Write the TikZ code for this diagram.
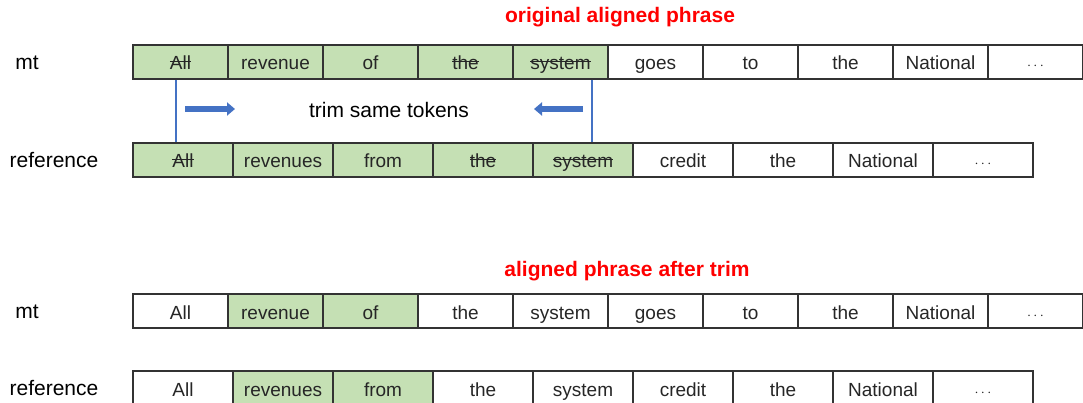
\documentclass[tikz,border=0pt]{standalone}
\usepackage{fontspec}
\setmainfont{Liberation Sans}
\usetikzlibrary{arrows.meta}
\definecolor{hitgreen}{RGB}{197,224,180}
\definecolor{linkblue}{RGB}{68,114,196}
\newsavebox{\cutbox}
\newcommand{\cutword}[1]{\sbox{\cutbox}{#1}\usebox{\cutbox}\llap{\rule[0.4em]{\wd\cutbox}{1.1pt}}}

\begin{document}
\begin{tikzpicture}[x=1pt,y=-1pt,
    cell/.style={draw=black!80, line width=1.3pt, minimum height=34pt, inner sep=0pt,
        text height=16pt, text depth=0pt, text=black!85, font=\fontsize{19}{22}\selectfont},
    hit/.style={fill=hitgreen},
    miss/.style={fill=white},
    rowlabel/.style={font=\fontsize{21}{25}\selectfont},
    title/.style={text=red, font=\fontsize{21}{25}\selectfont\bfseries},
    link/.style={linkblue, line width=1.5pt},
    push/.style={linkblue, line width=6.5pt, -{Triangle[length=8pt,width=13pt]}}]

    \useasboundingbox (0,0) rectangle (1083,403);
    \clip (0,0) rectangle (1083,403);

    % Titulos
    \node[title] (origtitle) at (620,17) {original aligned phrase};
    \node[title] (trimtitle) at (627,271) {aligned phrase after trim};

    % Frases originales
    \node[rowlabel] (mtlab) at (27,63) {mt};
    \node[rowlabel] (reflab) at (54,160) {reference};
    \foreach \w/\s [count=\i] in {\cutword{All}/hit, revenue/hit, of/hit, \cutword{the}/hit, \cutword{system}/hit,
        goes/miss, to/miss, the/miss, National/miss, {\fontsize{15}{16}\selectfont$\cdots$}/miss} {
        \node[cell, \s, minimum width=95pt] (mt\i) at ({133+95*(\i-0.5)}, 62) {\w};
    }
    \foreach \w/\s [count=\i] in {\cutword{All}/hit, revenues/hit, from/hit, \cutword{the}/hit, \cutword{system}/hit,
        credit/miss, the/miss, National/miss, {\fontsize{15}{16}\selectfont$\cdots$}/miss} {
        \node[cell, \s, minimum width=100pt] (ref\i) at ({133+100*(\i-0.5)}, 160) {\w};
    }

    % Recorte de tokens iguales
    \draw[link] ([xshift=-4.5pt]mt1.south) -- ([xshift=-4.5pt]mt1.south |- ref1.north);
    \draw[link] ([xshift=31.5pt]mt5.south) -- ([xshift=31.5pt]mt5.south |- ref5.north);
    \coordinate (pushA) at (185,109);
    \coordinate (pushB) at (235,109);
    \coordinate (pushC) at (583,109);
    \coordinate (pushD) at (534,109);
    \draw[push] (pushA) -- (pushB);
    \draw[push] (pushC) -- (pushD);
    \node[rowlabel] (trim) at (389,110) {trim same tokens};

    % Frases tras el recorte
    \node[rowlabel] (mtlabb) at (27,312) {mt};
    \node[rowlabel] (reflabb) at (54,388) {reference};
    \foreach \w/\s [count=\i] in {All/miss, revenue/hit, of/hit, the/miss, system/miss,
        goes/miss, to/miss, the/miss, National/miss, {\fontsize{15}{16}\selectfont$\cdots$}/miss} {
        \node[cell, \s, minimum width=95pt] (mtb\i) at ({133+95*(\i-0.5)}, 311) {\w};
    }
    \foreach \w/\s [count=\i] in {All/miss, revenues/hit, from/hit, the/miss, system/miss,
        credit/miss, the/miss, National/miss, {\fontsize{15}{16}\selectfont$\cdots$}/miss} {
        \node[cell, \s, minimum width=100pt] (refb\i) at ({133+100*(\i-0.5)}, 388) {\w};
    }
\end{tikzpicture}
\end{document}
